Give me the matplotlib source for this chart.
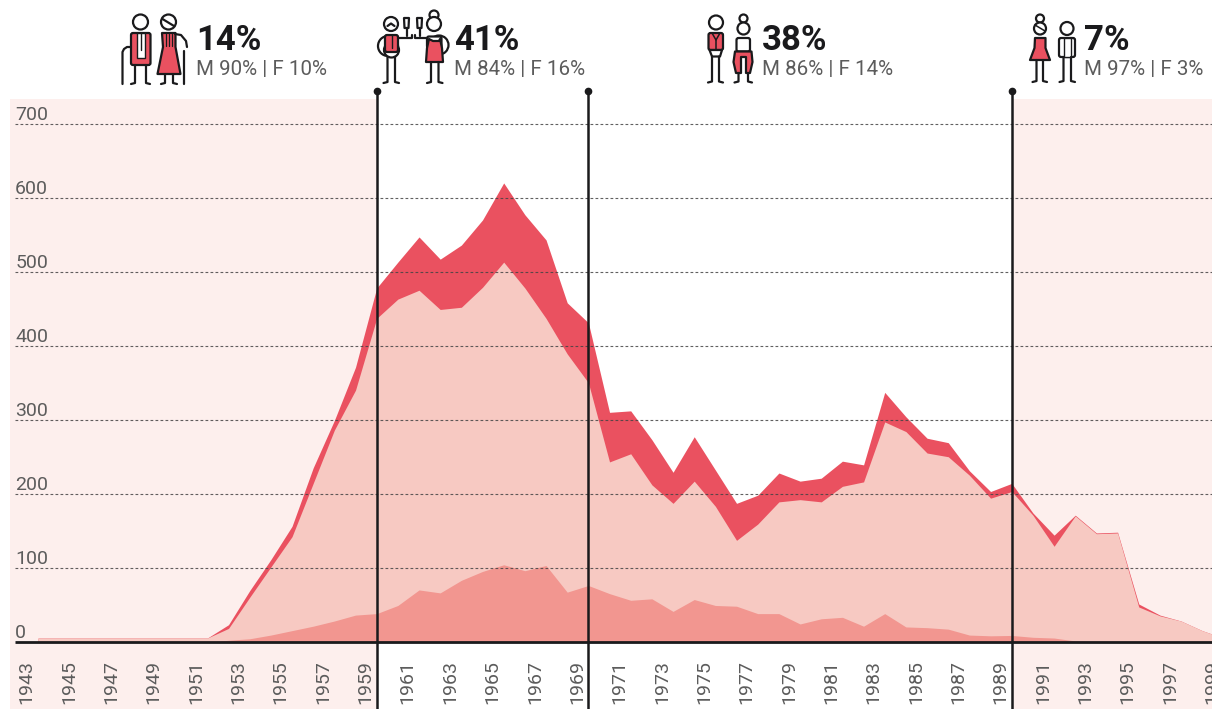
import matplotlib
matplotlib.use('Agg')
import matplotlib.pyplot as plt
from matplotlib.patches import Circle, Rectangle, Polygon, FancyBboxPatch

plt.rcParams['font.family'] = ['Roboto', 'DejaVu Sans']

years = list(range(1943, 2000))
total = [6, 6, 6, 6, 6, 6, 6, 6, 6, 24, 70, 112, 157, 236, 300, 372, 479, 514, 548, 518, 537, 571, 621,
         578, 544, 459, 432, 311, 313, 274, 230, 278, 233, 188, 199, 229, 218, 222, 245, 240, 338, 305,
         276, 270, 232, 204, 215, 175, 145, 172, 148, 149, 52, 37, 29, 16, 6]
middle = [6, 6, 6, 6, 6, 6, 6, 6, 6, 19, 61, 102, 143, 215, 287, 341, 438, 464, 476, 450, 453, 480, 514,
          479, 438, 390, 351, 244, 255, 213, 188, 218, 184, 138, 160, 190, 193, 190, 211, 217, 298, 285,
          256, 251, 226, 195, 204, 172, 130, 171, 147, 148, 48, 36, 29, 16, 6]
lower = [0, 0, 0, 0, 0, 0, 0, 0, 0, 3, 5, 10, 16, 22, 29, 37, 39, 50, 71, 67, 84, 96, 105,
         97, 104, 68, 77, 66, 57, 59, 42, 58, 50, 49, 39, 39, 25, 32, 34, 22, 39, 21,
         20, 18, 10, 9, 9.5, 7, 6, 2, 1, 1, 1, 1, 0, 0, 0]

y_ticks = [0, 100, 200, 300, 400, 500, 600, 700]
x_ticks = list(range(1943, 2000, 2))
era_years = [1959, 1969, 1989]
headline = ['14%', '41%', '38%', '7%']
split = ['M 90% | F 10%', 'M 84% | F 16%', 'M 86% | F 14%', 'M 97% | F 3%']
headline_x = [196, 454, 762, 1084]

RED = '#EA5160'
PINK = '#F7C9C2'
SALMON = '#F29690'
TINT = '#FDEFED'
INK = '#1A1A1C'
GREY = '#5C5C5C'

fig = plt.figure(figsize=(12.12, 7.09), dpi=100)
ax = fig.add_axes([0, 0, 1, 1])
ax.set_xlim(1941.205, 1998.46)
ax.set_ylim(-89.9, 868.2)
ax.axis('off')

# tinted bands outside the two middle eras
ax.fill_between([1941.68, era_years[0]], -89.9, 734.5, color=TINT, lw=0, zorder=1)
ax.fill_between([era_years[2], 1998.46], -89.9, 734.5, color=TINT, lw=0, zorder=1)

ax.fill_between(years, 0, total, color=RED, lw=0, zorder=2)
ax.fill_between(years, 0, middle, color=PINK, lw=0, zorder=3)
ax.fill_between(years, 0, lower, color=SALMON, lw=0, zorder=4)

for v in y_ticks[1:]:
    ax.plot([1941.92, 1998.46], [v, v], color='#444444', lw=0.8, dashes=(2.5, 2), alpha=0.85, zorder=5)
for v in y_ticks:
    ax.text(1941.92, v + 6.5, str(v), color=GREY, fontsize=14, ha='left', va='baseline', zorder=8)
ax.plot([1941.92, 1998.46], [0, 0], color=INK, lw=2, zorder=6, solid_capstyle='butt')

for y in x_ticks:
    ax.text(y - 0.53, -24, str(y), color=GREY, fontsize=14, rotation=90,
            ha='center', va='top', zorder=8)

for y in era_years:
    ax.plot([y, y], [-89.9, 745], color=INK, lw=1.8, zorder=7, solid_capstyle='butt')
    ax.plot([y], [745], 'o', color=INK, ms=4.5, zorder=7)

# overlay in pixels for the pictograms and headers
ov = fig.add_axes([0, 0, 1, 1])
ov.set_xlim(0, 1212)
ov.set_ylim(709, 0)
ov.axis('off')
ov.patch.set_alpha(0)

for x, h, s in zip(headline_x, headline, split):
    ov.text(x, 50, h, color=INK, fontsize=25, fontweight='bold', ha='left', va='baseline')
    ov.text(x, 75, s, color=GREY, fontsize=14.8, ha='left', va='baseline')

LW = 1.6

def line(xs, ys, lw=LW):
    ov.plot(xs, ys, color=INK, lw=lw, solid_capstyle='round', solid_joinstyle='round', zorder=6)

def head(x, y, r):
    ov.add_patch(Circle((x, y), r, fc='white', ec=INK, lw=LW, zorder=5))

def box(x0, y0, x1, y1, fc, z=4):
    ov.add_patch(FancyBboxPatch((x0, y0), x1 - x0, y1 - y0, boxstyle='round,pad=0,rounding_size=2',
                                fc=fc, ec=INK, lw=LW, zorder=z))

def poly(pts, fc):
    ov.add_patch(Polygon(pts, fc=fc, ec=INK, lw=LW, joinstyle='round', zorder=4))

def legs(x0, x1, top, bottom):
    line([x0, x0, x0 - 4], [top, bottom, bottom + 1])
    line([x1, x1, x1 + 4], [top, bottom, bottom + 1])

def glass(x):
    poly([(x - 2.5, 18), (x + 2.5, 18), (x + 2, 28), (x - 2, 28)], 'white')
    line([x, x], [28, 36])

# old couple
head(140.5, 22, 7.5)
box(131, 33, 150.5, 65, RED)
ov.add_patch(Rectangle((137, 33), 8, 25, fc='white', ec=INK, lw=1, zorder=5))
line([141, 141], [33, 50], 1)
legs(135, 146, 65, 83)
line([122.5, 122.5, 124, 127, 131], [84, 52, 49, 47, 47])
head(168.5, 22, 7.5)
line([162.5, 174], [19, 26])
poly([(162, 33), (175.5, 33), (175.5, 47), (180.5, 74), (157.5, 74), (163, 47)], RED)
for sx in [166, 169, 172]:
    line([sx, sx], [34, 46], 0.9)
legs(165, 173, 74, 83)
line([175, 181, 186, 187], [34, 35, 41, 47])
line([184, 184], [51, 84])

# waiters
head(391, 24, 7)
line([387.5, 391, 394.5], [26, 23.5, 26])
ov.add_patch(Circle((388, 46), 10, fc='white', ec=INK, lw=LW, zorder=3))
ov.add_patch(Circle((391.5, 50), 7.5, fc='white', ec=INK, lw=LW, zorder=3))
box(385, 35, 398, 52, RED)
line([391.5, 391.5], [35, 48], 1)
legs(387.5, 395, 57, 82)
line([398, 412, 412], [37.5, 37.5, 35])
glass(406.5)
glass(419.5)
line([415, 415, 427], [35, 37.5, 37.5])
ov.add_patch(Circle((434, 15), 4.5, fc='white', ec=INK, lw=LW, zorder=5))
head(434, 24, 7)
ov.add_patch(Circle((439, 45), 9.5, fc='white', ec=INK, lw=LW, zorder=3))
box(427, 36.5, 441.5, 48, 'white')
poly([(429, 39), (433, 41), (439, 41), (440, 39), (442, 48), (443, 62), (426, 62), (427, 48)], RED)
legs(431, 438.5, 62, 82)

# smart couple
head(716, 22.5, 7)
box(708.5, 33, 723, 50, RED)
line([712, 716, 720], [33, 40, 33], 1.1)
line([716, 716], [40, 50], 1.1)
poly([(709.5, 50), (722, 50), (720, 56.5), (712, 56.5)], 'white')
legs(712, 719, 56.5, 81.5)
ov.add_patch(Circle((743.5, 18.5), 4, fc='white', ec=INK, lw=LW, zorder=4))
head(743.5, 28.5, 6)
box(736.5, 38, 750, 51.5, 'white')
poly([(735, 51.5), (751.5, 51.5), (752.5, 62), (750, 73), (746, 73), (746, 57), (741, 57), (741, 73), (736, 73), (733.5, 62)], RED)
legs(738.5, 748, 73, 81.5)

# young couple
ov.add_patch(Circle((1040, 18.5), 4, fc='white', ec=INK, lw=LW, zorder=4))
head(1040, 28.5, 6)
line([1035, 1045], [25, 31], 1.1)
poly([(1035, 38), (1045.5, 38), (1045.5, 48), (1050, 60), (1030, 60), (1034.5, 48)], RED)
legs(1036.5, 1043, 60, 81)
head(1067, 28.5, 6.5)
box(1059, 38, 1075, 57, 'white')
ov.add_patch(Rectangle((1063.5, 38), 7.5, 19, fc='white', ec=INK, lw=1, zorder=5))
legs(1063.5, 1071, 57, 81)

fig.savefig('out.png', dpi=100)
